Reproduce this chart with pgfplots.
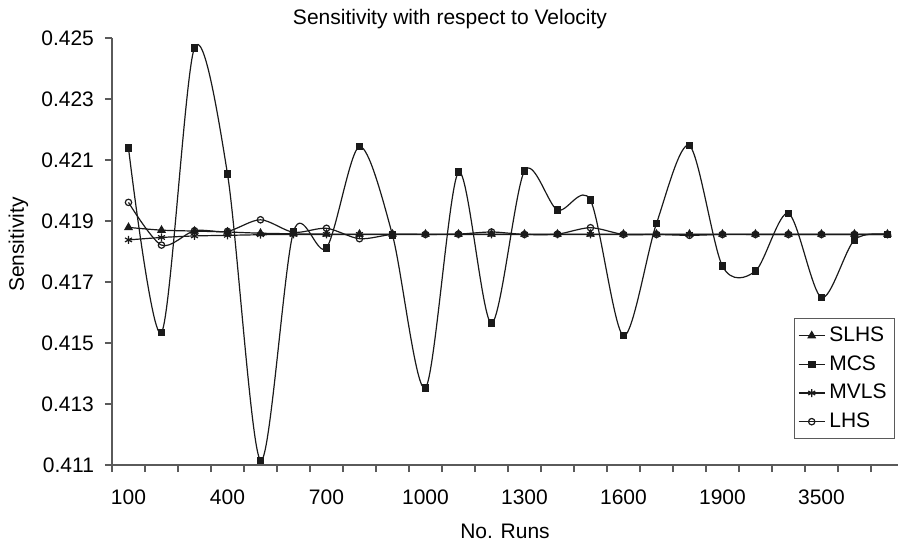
\documentclass[border=0pt]{standalone}
\usepackage{fontspec}
\setmainfont{Liberation Sans}
\usepackage{pgfplots}
\pgfplotsset{compat=1.18}
\definecolor{ink}{HTML}{1A1A1A}
\definecolor{axisgray}{HTML}{5A5A5A}
\begin{document}
\begin{tikzpicture}
\begin{axis}[
  scale only axis, width=393pt, height=213.5pt,
  at={(0,0)}, anchor=south west,
  xmin=-0.5, xmax=23.32, ymin=0.411, ymax=0.425,
  axis lines*=left,
  axis line style={draw=axisgray, line width=0.75pt},
  every tick/.style={draw=axisgray, line width=0.6pt},
  tick align=outside,
  major tick length=3.5pt,
  font=\fontsize{10.5}{12.6}\selectfont,
  /pgf/number format/assume math mode=true,
  /pgf/number format/fixed,
  /pgf/number format/fixed zerofill,
  /pgf/number format/precision=3,
  xtick={-0.5,0.5,...,22.5},
  xticklabels={},
  extra x ticks={0,3,6,9,12,15,18,21},
  extra x tick labels={100,400,700,1000,1300,1600,1900,3500},
  extra x tick style={major tick length=0pt, xticklabel style={anchor=base, yshift=-19.5pt}},
  ytick={0.411,0.413,0.415,0.417,0.419,0.421,0.423,0.425},
  yticklabel style={anchor=east, xshift=-2pt},
  title={Sensitivity with respect to Velocity},
  title style={at={(axis description cs:0.43,1)}, anchor=base, yshift=1pt},
  xlabel={No. Runs},
  xlabel style={at={(axis description cs:0.5,0)}, anchor=base, yshift=-36.5pt},
  ylabel={Sensitivity},
  ylabel style={at={(axis description cs:-0.112,0.516)}, anchor=base},
  legend style={at={(axis description cs:0.9962,0.0609)}, anchor=south east,
    draw=axisgray, line width=0.5pt, fill=white, inner sep=2pt, row sep=1.5pt,
    font=\fontsize{10.5}{12.6}\selectfont},
  legend cell align=left,
  legend image code/.code={\draw[mark repeat=2,mark phase=2,#1] plot coordinates {(0pt,0pt) (6.5pt,0pt) (13pt,0pt)};},
  every axis plot/.append style={ink, line width=0.6pt, smooth, tension=0.5},
]
\addplot[mark=triangle*, mark size=2pt, mark options={fill=ink}] coordinates {
(0,0.41879)(1,0.41870)(2,0.41867)(3,0.41864)(4,0.41860)(5,0.41858)(6,0.41857)(7,0.41857)
(8,0.41857)(9,0.41857)(10,0.41857)(11,0.41857)(12,0.41857)(13,0.41857)(14,0.41857)(15,0.41857)
(16,0.41857)(17,0.41857)(18,0.41857)(19,0.41857)(20,0.41857)(21,0.41857)(22,0.41857)(23,0.41857)};
\addlegendentry{SLHS}
\addplot[mark=square*, mark size=1.6pt, mark options={fill=ink}] coordinates {
(0,0.42139)(1,0.41534)(2,0.42468)(3,0.42054)(4,0.41115)(5,0.41865)(6,0.41812)(7,0.42144)
(8,0.41854)(9,0.41353)(10,0.42060)(11,0.41565)(12,0.42064)(13,0.41936)(14,0.41968)(15,0.41524)
(16,0.41892)(17,0.42147)(18,0.41752)(19,0.41736)(20,0.41925)(21,0.41649)(22,0.41838)(23,0.41856)};
\addlegendentry{MCS}
\addplot[mark=asterisk, mark size=2pt] coordinates {
(0,0.41838)(1,0.41846)(2,0.41851)(3,0.41853)(4,0.41855)(5,0.41856)(6,0.41856)(7,0.41856)
(8,0.41856)(9,0.41856)(10,0.41856)(11,0.41856)(12,0.41856)(13,0.41856)(14,0.41856)(15,0.41856)
(16,0.41856)(17,0.41856)(18,0.41856)(19,0.41856)(20,0.41856)(21,0.41856)(22,0.41856)(23,0.41856)};
\addlegendentry{MVLS}
\addplot[mark=o, mark size=1.6pt, mark options={fill=white}] coordinates {
(0,0.41961)(1,0.41821)(2,0.41868)(3,0.41866)(4,0.41904)(5,0.41863)(6,0.41876)(7,0.41842)
(8,0.41856)(9,0.41856)(10,0.41857)(11,0.41864)(12,0.41856)(13,0.41857)(14,0.41878)(15,0.41856)
(16,0.41856)(17,0.41853)(18,0.41856)(19,0.41856)(20,0.41856)(21,0.41856)(22,0.41856)(23,0.41856)};
\addlegendentry{LHS}
\end{axis}
\pgfresetboundingbox
\path (-56pt,-38.5pt) rectangle (393pt,232.5pt);
\end{tikzpicture}
\end{document}
